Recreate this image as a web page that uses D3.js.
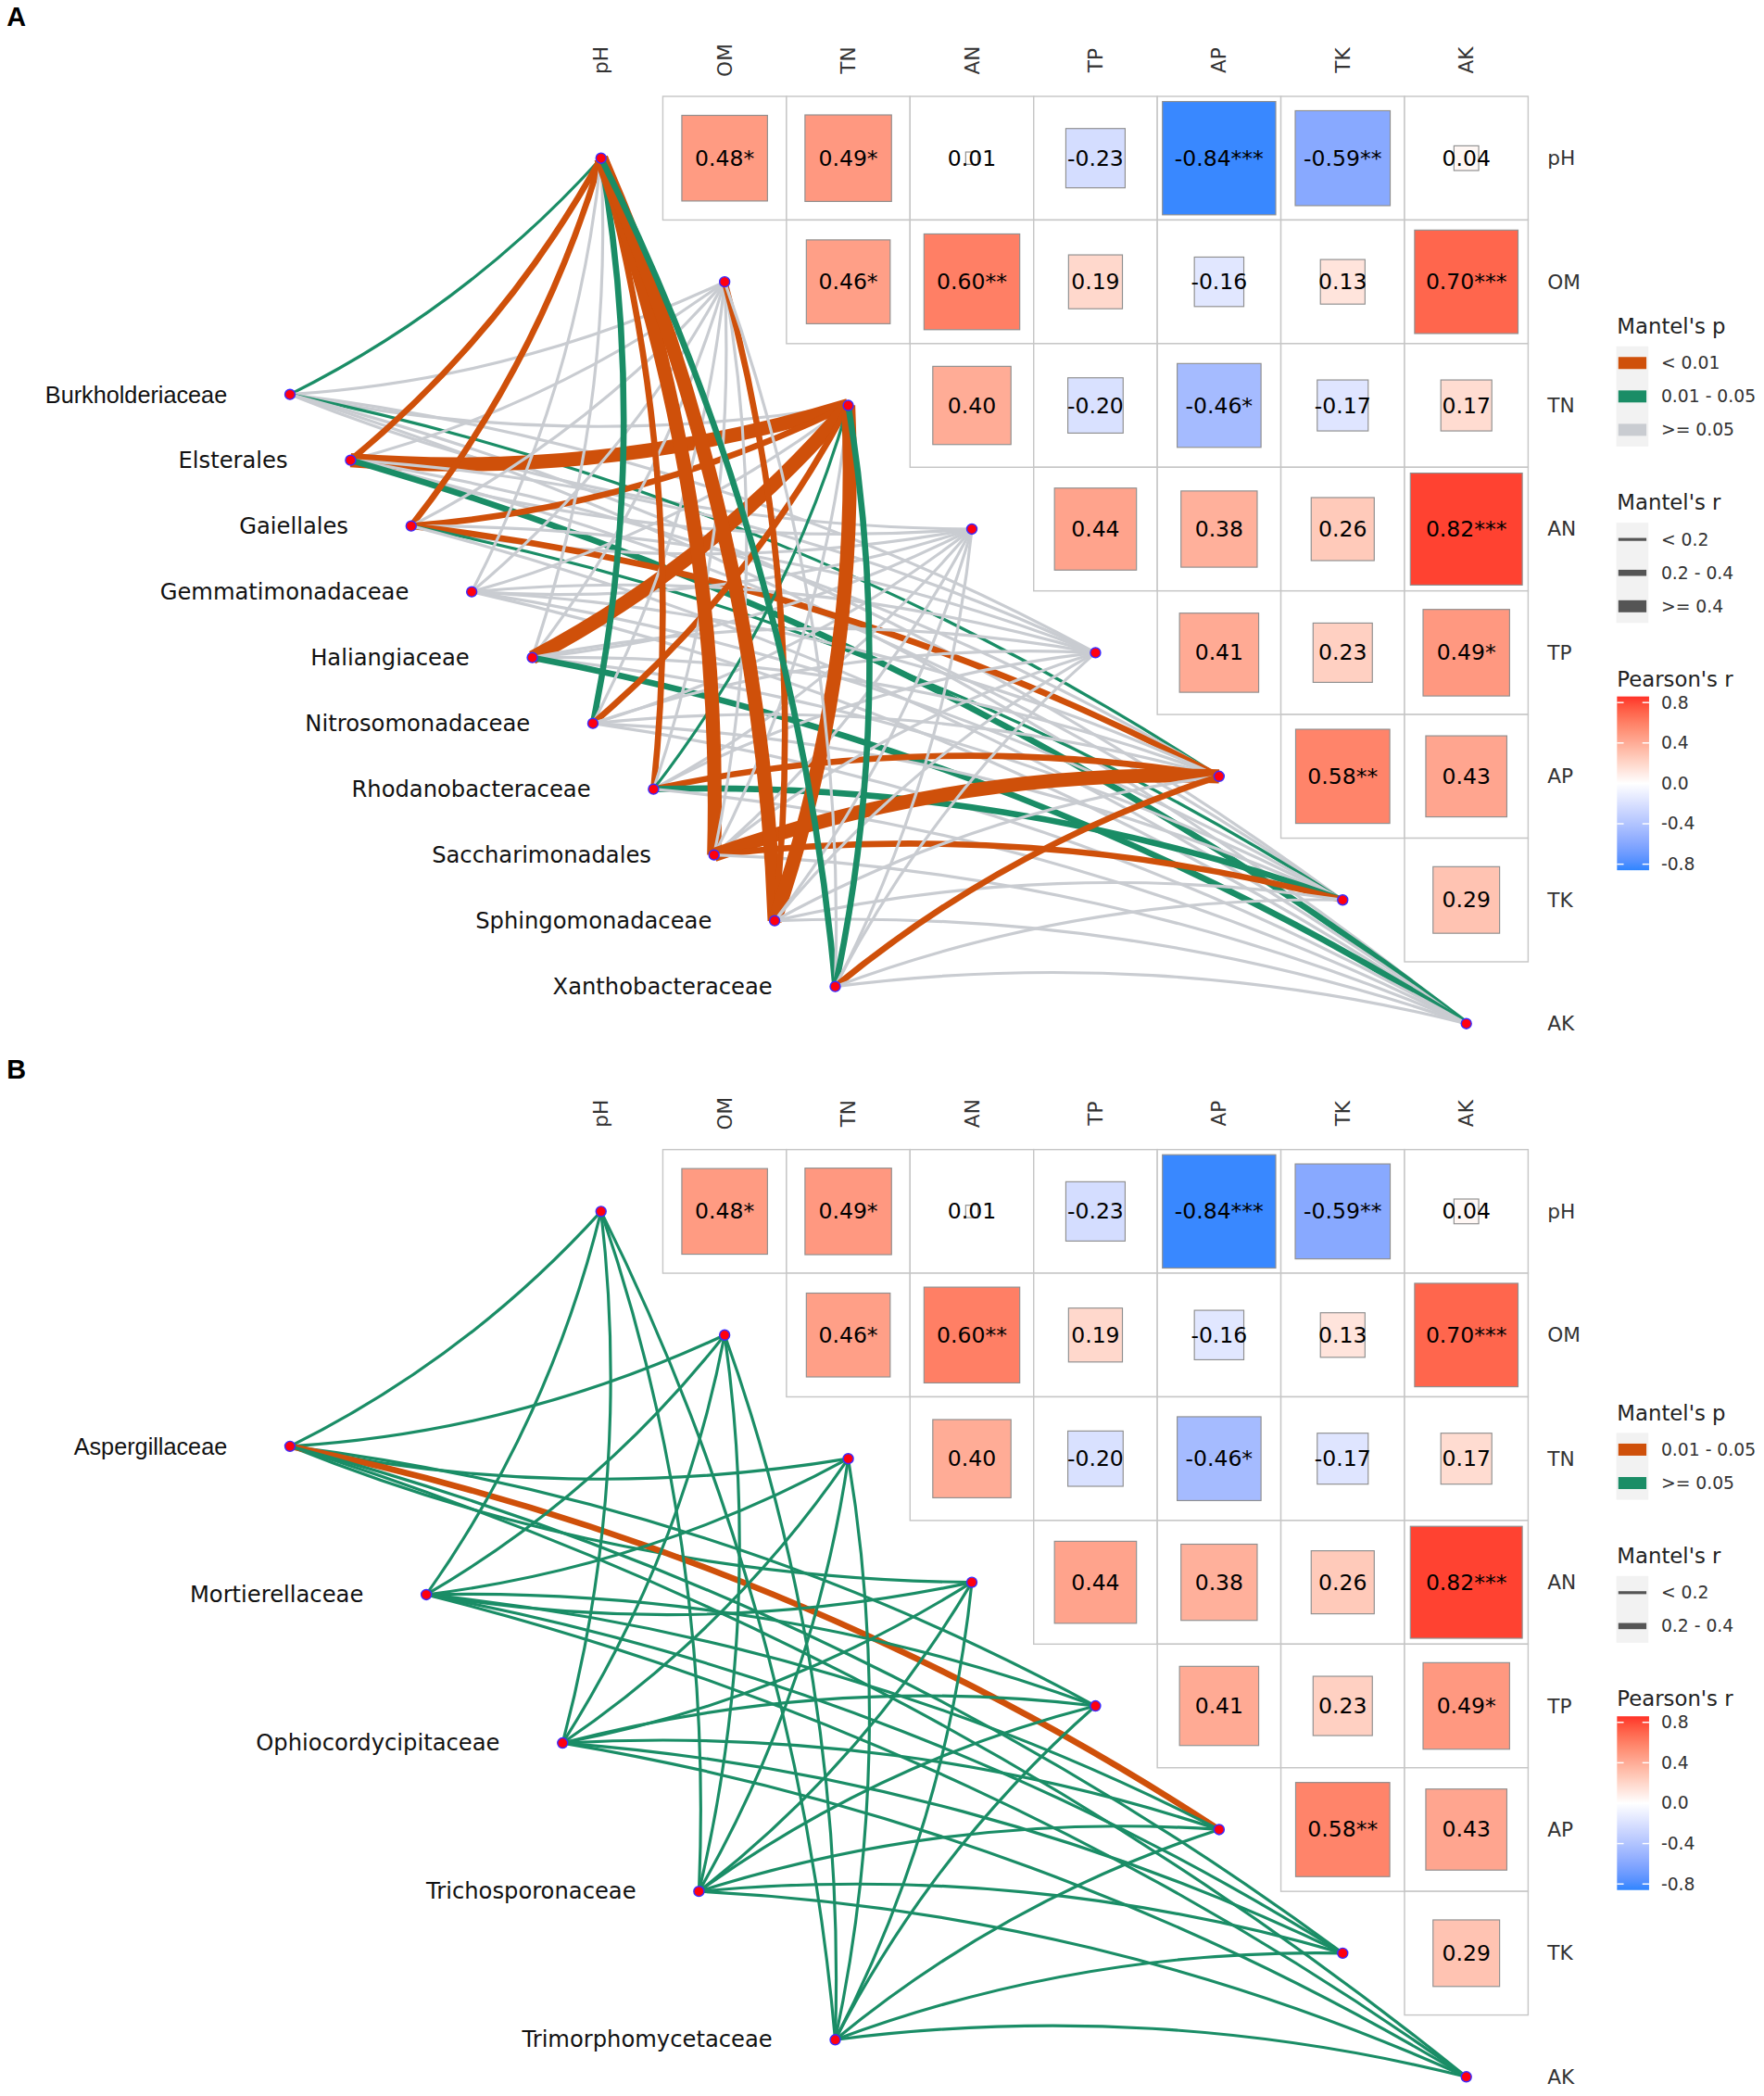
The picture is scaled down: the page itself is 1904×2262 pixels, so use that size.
<!DOCTYPE html>
<html>
<head>
<meta charset="utf-8">
<script src="https://cdn.jsdelivr.net/npm/d3@7"></script>
<style>
  body { margin: 0; background: #fff; }
  text { font-family: "DejaVu Sans", sans-serif; }
</style>
</head>
<body>
<div id="chart"></div>
<script>
// ---- data ----
const envVars = ["pH", "OM", "TN", "AN", "TP", "AP", "TK", "AK"];

// upper triangle of the Pearson matrix, row by row (row i holds columns i+1..7)
const pearsonR = [
  [0.48, 0.49, 0.01, -0.23, -0.84, -0.59, 0.04],
  [0.46, 0.60, 0.19, -0.16, 0.13, 0.70],
  [0.40, -0.20, -0.46, -0.17, 0.17],
  [0.44, 0.38, 0.26, 0.82],
  [0.41, 0.23, 0.49],
  [0.58, 0.43],
  [0.29]
];
const pearsonStars = [
  ["*", "*", "", "", "***", "**", ""],
  ["*", "**", "", "", "", "***"],
  ["", "", "*", "", ""],
  ["", "", "", "***"],
  ["", "", "*"],
  ["**", ""],
  [""]
];

const taxaA = ["Burkholderiaceae", "Elsterales", "Gaiellales", "Gemmatimonadaceae",
  "Haliangiaceae", "Nitrosomonadaceae", "Rhodanobacteraceae", "Saccharimonadales",
  "Sphingomonadaceae", "Xanthobacteraceae"];
const taxaB = ["Aspergillaceae", "Mortierellaceae", "Ophiocordycipitaceae",
  "Trichosporonaceae", "Trimorphomycetaceae"];

const pLevelsA = ["< 0.01", "0.01 - 0.05", ">= 0.05"];
const pLevelsB = ["0.01 - 0.05", ">= 0.05"];
const rLevelsA = ["< 0.2", "0.2 - 0.4", ">= 0.4"];
const rLevelsB = ["< 0.2", "0.2 - 0.4"];

// Mantel results per taxon, one level index per env variable (pH..AK)
const mantelPA = [
  [1, 2, 2, 2, 2, 1, 2, 2],
  [0, 2, 0, 2, 2, 2, 2, 1],
  [0, 2, 0, 2, 2, 0, 1, 2],
  [2, 2, 2, 2, 2, 2, 2, 2],
  [2, 2, 0, 2, 2, 2, 2, 1],
  [1, 2, 0, 2, 2, 2, 2, 2],
  [0, 2, 1, 2, 2, 0, 1, 2],
  [0, 2, 2, 2, 2, 0, 0, 2],
  [0, 0, 0, 2, 2, 2, 2, 2],
  [1, 2, 1, 2, 2, 0, 2, 2]
];
const mantelRA = [
  [0, 0, 0, 0, 0, 0, 0, 0],
  [1, 0, 2, 0, 0, 0, 0, 1],
  [1, 0, 1, 0, 0, 1, 0, 0],
  [0, 0, 0, 0, 0, 0, 0, 0],
  [0, 0, 2, 0, 0, 0, 0, 1],
  [1, 0, 1, 0, 0, 0, 0, 0],
  [1, 0, 0, 0, 0, 1, 1, 0],
  [2, 0, 0, 0, 0, 2, 1, 0],
  [2, 1, 2, 0, 0, 0, 0, 0],
  [1, 0, 1, 0, 0, 1, 0, 0]
];
const mantelPB = [
  [1, 1, 1, 1, 1, 0, 1, 1],
  [1, 1, 1, 1, 1, 1, 1, 1],
  [1, 1, 1, 1, 1, 1, 1, 1],
  [1, 1, 1, 1, 1, 1, 1, 1],
  [1, 1, 1, 1, 1, 1, 1, 1]
];
const mantelRB = [
  [0, 0, 0, 0, 0, 1, 0, 0],
  [0, 0, 0, 0, 0, 0, 0, 0],
  [0, 0, 0, 0, 0, 0, 0, 0],
  [0, 0, 0, 0, 0, 0, 0, 0],
  [0, 0, 0, 0, 0, 0, 0, 0]
];

const colorbarTicks = [0.8, 0.4, 0.0, -0.4, -0.8];

// ---- layout ----
const width = 1904;
const height = 2262;
const cell = 92.5;
const gridLeft = 403.5;

const svg = d3
  .select("#chart")
  .append("svg")
  .attr("width", width)
  .attr("height", height)
  .attr("viewBox", "0 0 1320 1568");

const fill = d3
  .scaleLinear()
  .domain([-0.86, 0, 0.86])
  .range(["#2e85ff", "#ffffff", "#ff3228"])
  .interpolate(d3.interpolateLab)
  .clamp(true);

const lineWidth = d3.scaleOrdinal().domain(rLevelsA).range([2.2, 4.6, 10.5]);
const pColorsA = d3.scaleOrdinal().domain(pLevelsA).range(["#cf500a", "#1a8d66", "#c9ccd1"]);
const pColorsB = d3.scaleOrdinal().domain(pLevelsB).range(["#cf500a", "#1a8d66"]);

const arcPath = (x1, y1, x2, y2, sweep) => {
  const L = Math.hypot(x2 - x1, y2 - y1);
  const k = 0.047;
  const R = (L * (0.25 + k * k)) / (2 * k);
  return `M${x1},${y1}A${R},${R} 0 0 ${sweep} ${x2},${y2}`;
};

const drawPanel = (opts) => {
  const g = svg.append("g");
  const top = opts.top;

  const x = d3.scaleBand().domain(envVars).range([gridLeft, gridLeft + 8 * cell]);
  const y = d3.scaleBand().domain(envVars).range([top, top + 8 * cell]);
  const cx = e => x(e) + cell / 2;
  const cy = e => y(e) + cell / 2;

  // panel letter
  g.append("text")
    .attr("x", 5)
    .attr("y", top - 53)
    .style("font-family", "'Liberation Sans', Arial, sans-serif")
    .style("font-weight", "bold")
    .style("font-size", "20px")
    .text(opts.letter);

  // column and row labels
  envVars.forEach(e => {
    g.append("text")
      .attr("transform", `translate(${cx(e)},${top - 27}) rotate(-90)`)
      .attr("text-anchor", "middle")
      .attr("dominant-baseline", "central")
      .style("font-size", "15px")
      .style("fill", "#333")
      .text(e);
    g.append("text")
      .attr("x", 1158)
      .attr("y", cy(e))
      .attr("dominant-baseline", "central")
      .style("font-size", "15px")
      .style("fill", "#333")
      .text(e);
  });

  // heatmap cells
  const cells = [];
  pearsonR.forEach((row, i) => {
    row.forEach((r, k) => {
      const j = i + 1 + k;
      cells.push({ row: envVars[i], col: envVars[j], r: r, star: pearsonStars[i][k] });
    });
  });

  g.selectAll("rect.cell")
    .data(cells)
    .enter()
    .append("rect")
    .attr("class", "cell")
    .attr("x", d => x(d.col))
    .attr("y", d => y(d.row))
    .attr("width", cell)
    .attr("height", cell)
    .attr("fill", "#fff")
    .attr("stroke", "#c6c6c6")
    .attr("stroke-width", 1);

  const side = d => Math.sqrt(Math.abs(d.r)) * cell;

  g.selectAll("rect.sq")
    .data(cells)
    .enter()
    .append("rect")
    .attr("class", "sq")
    .attr("x", d => cx(d.col) - side(d) / 2)
    .attr("y", d => cy(d.row) - side(d) / 2)
    .attr("width", side)
    .attr("height", side)
    .attr("fill", d => fill(d.r))
    .attr("stroke", "#8f8f8f")
    .attr("stroke-width", 0.8);

  g.selectAll("text.val")
    .data(cells)
    .enter()
    .append("text")
    .attr("class", "val")
    .attr("x", d => cx(d.col))
    .attr("y", d => cy(d.row))
    .attr("text-anchor", "middle")
    .attr("dominant-baseline", "central")
    .style("font-size", "16.3px")
    .text(d => d.r.toFixed(2) + d.star);

  // taxa positions
  const ty = d3.scalePoint().domain(opts.taxa).range(opts.taxaY);
  const tx = d3.scalePoint().domain(opts.taxa).range(opts.taxaX);

  // links, in taxon-major order
  const links = [];
  opts.taxa.forEach((t, i) => {
    envVars.forEach((e, j) => {
      links.push({
        taxon: t,
        env: e,
        idx: j,
        p: opts.pLevels[opts.mantelP[i][j]],
        r: opts.rLevels[opts.mantelR[i][j]]
      });
    });
  });

  g.selectAll("path.link")
    .data(links)
    .enter()
    .append("path")
    .attr("class", "link")
    .attr("d", d => arcPath(tx(d.taxon), ty(d.taxon), cx(d.env), cy(d.env), d.idx < 4 ? 0 : 1))
    .attr("fill", "none")
    .attr("stroke", d => opts.pColors(d.p))
    .attr("stroke-width", d => lineWidth(d.r))
    .attr("stroke-linecap", "butt");

  // nodes
  const nodes = opts.taxa
    .map(t => ({ x: tx(t), y: ty(t) }))
    .concat(envVars.map(e => ({ x: cx(e), y: cy(e) })));
  g.selectAll("circle.node")
    .data(nodes)
    .enter()
    .append("circle")
    .attr("class", "node")
    .attr("cx", d => d.x)
    .attr("cy", d => d.y)
    .attr("r", 3.8)
    .attr("fill", "#ff0010")
    .attr("stroke", "#3b2bff")
    .attr("stroke-width", 1);

  // taxa labels
  opts.taxa.forEach((t, i) => {
    g.append("text")
      .attr("x", tx(t) - 47)
      .attr("y", ty(t))
      .attr("text-anchor", "end")
      .attr("dominant-baseline", "central")
      .style("font-size", i === 0 ? "17.5px" : "16.8px")
      .style("font-family", i === 0 ? "'Liberation Sans', Arial, sans-serif" : "'DejaVu Sans', sans-serif")
      .style("fill", "#111")
      .text(t);
  });

  // ---- legends ----
  const lg = g.append("g");
  const lx = 1210;
  let ly = opts.legendTop;

  const legendTitle = (txt, yy) => {
    lg.append("text")
      .attr("x", lx)
      .attr("y", yy)
      .attr("dominant-baseline", "central")
      .style("font-size", "15.8px")
      .style("fill", "#222")
      .text(txt);
  };
  const keyLabel = (txt, yy) => {
    lg.append("text")
      .attr("x", lx + 33)
      .attr("y", yy)
      .attr("dominant-baseline", "central")
      .style("font-size", "13px")
      .style("fill", "#333")
      .text(txt);
  };

  legendTitle("Mantel's p", ly);
  let ky = ly + 15;
  lg.append("rect")
    .attr("x", lx - 0.5)
    .attr("y", ky)
    .attr("width", 24)
    .attr("height", opts.pLevels.length * 25)
    .attr("fill", "#f2f2f2");
  opts.pLevels.forEach((p, i) => {
    const yy = ky + 12.5 + i * 25;
    lg.append("rect")
      .attr("x", lx + 1)
      .attr("y", yy - 4.5)
      .attr("width", 21)
      .attr("height", 9)
      .attr("fill", opts.pColors(p));
    keyLabel(p, yy);
  });

  ly = ky + opts.pLevels.length * 25 + 42;
  legendTitle("Mantel's r", ly);
  ky = ly + 15;
  lg.append("rect")
    .attr("x", lx - 0.5)
    .attr("y", ky)
    .attr("width", 24)
    .attr("height", opts.rLevels.length * 25)
    .attr("fill", "#f2f2f2");
  opts.rLevels.forEach((r, i) => {
    const yy = ky + 12.5 + i * 25;
    const h = Math.min(lineWidth(r), 9);
    lg.append("rect")
      .attr("x", lx + 1)
      .attr("y", yy - h / 2)
      .attr("width", 21)
      .attr("height", h)
      .attr("fill", "#555");
    keyLabel(r, yy);
  });

  ly = ky + opts.rLevels.length * 25 + 42;
  legendTitle("Pearson's r", ly);
  const zeroY = ly + 78;
  const barScale = d3.scaleLinear().domain([-0.86, 0.86]).range([zeroY + 65, zeroY - 65]);

  const gradId = "grad" + opts.letter;
  const grad = svg
    .append("defs")
    .append("linearGradient")
    .attr("id", gradId)
    .attr("x1", 0)
    .attr("y1", 1)
    .attr("x2", 0)
    .attr("y2", 0);
  d3.range(0, 1.0001, 0.05).forEach(t => {
    grad.append("stop")
      .attr("offset", t)
      .attr("stop-color", fill(-0.86 + t * 1.72));
  });
  lg.append("rect")
    .attr("x", lx)
    .attr("y", barScale(0.86))
    .attr("width", 24)
    .attr("height", barScale(-0.86) - barScale(0.86))
    .attr("fill", `url(#${gradId})`);
  colorbarTicks.forEach(v => {
    lg.append("line")
      .attr("x1", lx).attr("x2", lx + 5)
      .attr("y1", barScale(v)).attr("y2", barScale(v))
      .attr("stroke", "#fff").attr("stroke-width", 1);
    lg.append("line")
      .attr("x1", lx + 19).attr("x2", lx + 24)
      .attr("y1", barScale(v)).attr("y2", barScale(v))
      .attr("stroke", "#fff").attr("stroke-width", 1);
    keyLabel(v.toFixed(1), barScale(v));
  });
};

drawPanel({
  letter: "A",
  top: 72,
  taxa: taxaA,
  taxaY: [295, 738],
  taxaX: [217, 625],
  pLevels: pLevelsA,
  rLevels: rLevelsA,
  mantelP: mantelPA,
  mantelR: mantelRA,
  pColors: pColorsA,
  legendTop: 244
});

drawPanel({
  letter: "B",
  top: 860,
  taxa: taxaB,
  taxaY: [1082, 1526],
  taxaX: [217, 625],
  pLevels: pLevelsB,
  rLevels: rLevelsB,
  mantelP: mantelPB,
  mantelR: mantelRB,
  pColors: pColorsB,
  legendTop: 1057
});
</script>
</body>
</html>
